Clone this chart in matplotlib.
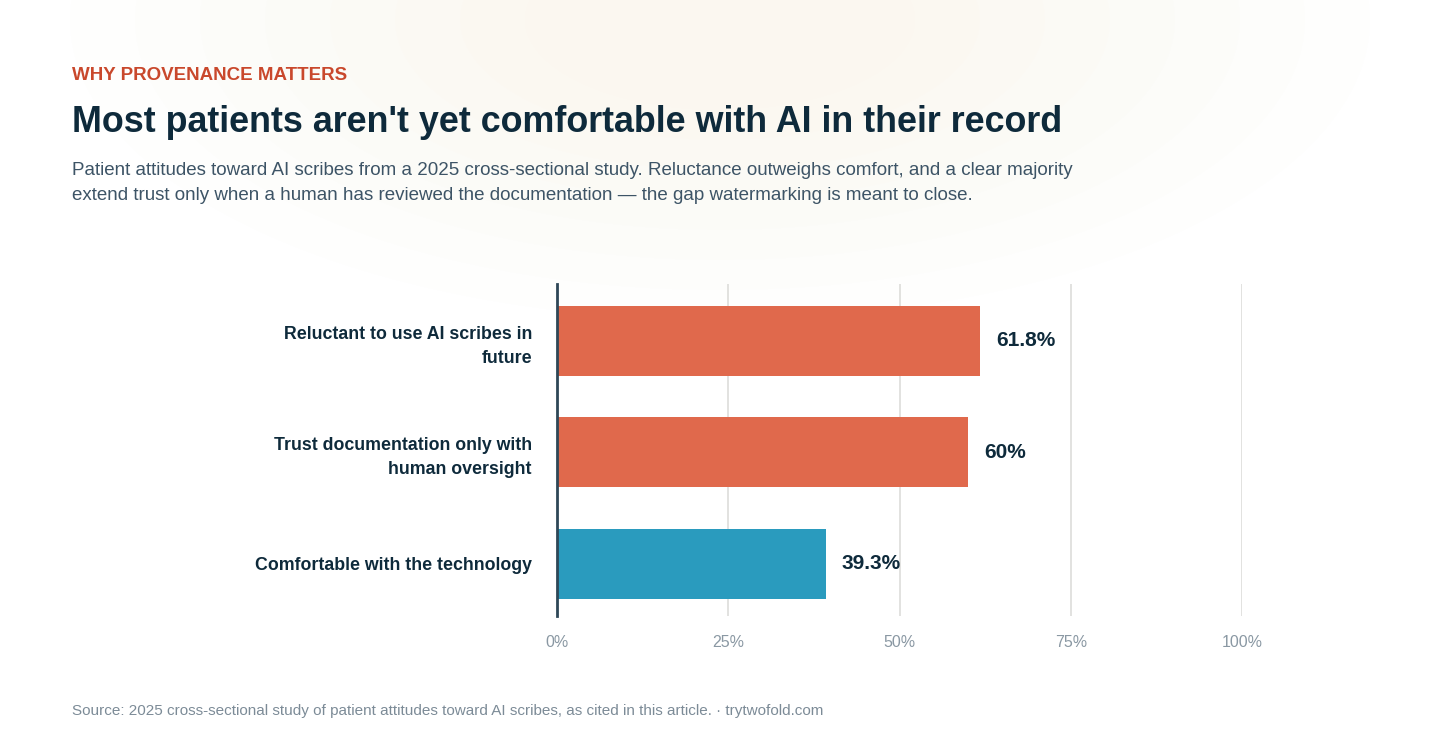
import matplotlib.pyplot as plt
from matplotlib.patches import Ellipse

categories = ["Reluctant to use AI scribes in\nfuture",
              "Trust documentation only with\nhuman oversight",
              "Comfortable with the technology"]
values = [61.8, 60, 39.3]
value_labels = ["61.8%", "60%", "39.3%"]
bar_colors = ["#E0694C", "#E0694C", "#2A9BBE"]
x_ticks = [0, 25, 50, 75, 100]
x_tick_labels = ["0%", "25%", "50%", "75%", "100%"]

plt.rcParams['font.family'] = ['Liberation Sans', 'DejaVu Sans']
navy = "#0E2A3B"

fig = plt.figure(figsize=(14.4, 7.47), dpi=100)
fig.patch.set_facecolor("white")

# faint warm glow at the top
bg = fig.add_axes([0, 0, 1, 1], zorder=-10)
bg.set_xlim(0, 1440)
bg.set_ylim(747, 0)
bg.axis("off")
for i in range(8):
    w = 1300 - i * 130
    h = 600 - i * 60
    bg.add_patch(Ellipse((720, 20), w, h, color="#FBD9C8", alpha=0.025, lw=0))

fig.text(72 / 1440, 1 - 76 / 747, "WHY PROVENANCE MATTERS", color="#C9482C",
         fontsize=13.5, fontweight="bold", va="center")
fig.text(72 / 1440, 1 - 122 / 747, "Most patients aren't yet comfortable with AI in their record",
         color=navy, fontsize=25.8, fontweight="bold", va="center")
fig.text(72 / 1440, 1 - 183 / 747,
         "Patient attitudes toward AI scribes from a 2025 cross-sectional study. Reluctance outweighs comfort, and a clear majority\n"
         "extend trust only when a human has reviewed the documentation \u2014 the gap watermarking is meant to close.",
         color="#3D5466", fontsize=13.5, va="center", linespacing=1.55)
fig.text(72 / 1440, 1 - 711 / 747,
         "Source: 2025 cross-sectional study of patient attitudes toward AI scribes, as cited in this article. \u00b7 trytwofold.com",
         color="#7C8B97", fontsize=11, va="center")

ax = fig.add_axes([557 / 1440, 1 - 616 / 747, 685 / 1440, 332 / 747])
ax.patch.set_alpha(0)
y = list(range(len(categories)))
ax.barh(y, values, height=0.63, color=bar_colors, zorder=3)
for yi, v, lab in zip(y, values, value_labels):
    ax.text(v + 2.3, yi, lab, va="center", ha="left", fontsize=15,
            fontweight="bold", color=navy)
ax.set_xlim(0, 100)
ax.set_ylim(2.47, -0.51)
ax.set_xticks(x_ticks)
ax.set_xticklabels(x_tick_labels, color="#8A98A3", fontsize=11.5)
ax.set_yticks(y)
ax.set_yticklabels(categories, fontsize=12.8, fontweight="bold", color=navy,
                   ha="right", linespacing=1.55)
ax.tick_params(axis="both", length=0)
ax.tick_params(axis="x", pad=14)
ax.tick_params(axis="y", pad=18)
ax.grid(axis="x", color="#DDDDDA", lw=1.2, zorder=0)
for s in ["top", "right", "bottom"]:
    ax.spines[s].set_visible(False)
ax.spines["left"].set_color("#2E4757")
ax.spines["left"].set_linewidth(2)
ax.spines["left"].set_zorder(5)

fig.savefig("out.png", dpi=100)
